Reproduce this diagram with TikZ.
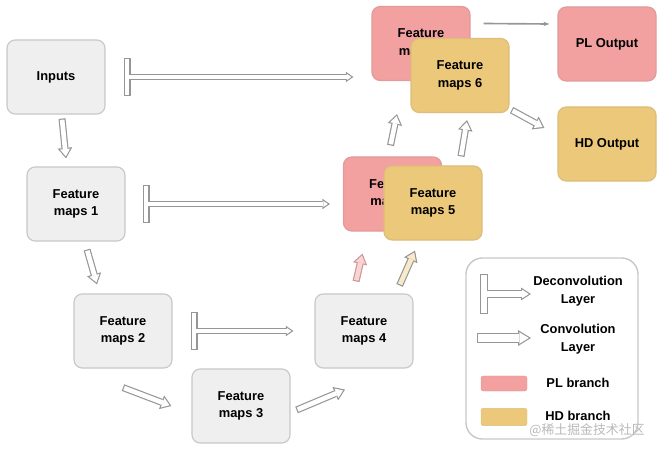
\documentclass[tikz,border=0pt]{standalone}
\usepackage{fontspec}
\setmainfont{Liberation Sans}
\newfontfamily\cjkfont{Noto Sans CJK SC}
\usetikzlibrary{arrows.meta, positioning}
\definecolor{rosa}{RGB}{242, 160, 160}
\definecolor{amarelo}{RGB}{236, 200, 122}
\definecolor{cinzaclaro}{RGB}{239, 239, 239}
\definecolor{borda}{RGB}{200, 200, 200}
\definecolor{linha}{RGB}{150, 150, 150}
\tikzset{
  caixa/.style={
    draw=borda, fill=cinzaclaro, line width=1pt, rounded corners=7pt,
    minimum width=2.94cm, minimum height=2.22cm,
    font=\fontsize{11}{15}\selectfont\bfseries, align=center
  },
  caixaPL/.style={caixa, fill=rosa, draw=rosa!85!gray},
  caixaHD/.style={caixa, fill=amarelo, draw=amarelo!85!gray},
  amostraPL/.style={fill=rosa, draw=rosa!85!gray, rounded corners=2pt, minimum width=1.38cm, minimum height=0.45cm},
  amostraHD/.style={fill=amarelo, draw=amarelo!85!gray, rounded corners=2pt, minimum width=1.38cm, minimum height=0.52cm},
  rotulo/.style={font=\fontsize{11}{15}\selectfont\bfseries, align=center},
  % seta oca: contorno cinza, miolo claro
  setaConv/.style={
    draw=linha, line width=6pt, -{Triangle[length=9pt, width=12.5pt, line width=0pt]},
    postaction={draw=#1, line width=4pt, shorten <=1pt, shorten >=1.75pt,
      -{Triangle[length=6.25pt, width=8.68pt, line width=0pt]}}
  },
  setaConv/.default=white,
  setaConvLeg/.style={
    draw=linha, line width=8.5pt, -{Triangle[length=11pt, width=13.5pt, line width=0pt]},
    postaction={draw=white, line width=6.5pt, shorten <=1pt, shorten >=1.91pt,
      -{Triangle[length=8.09pt, width=9.93pt, line width=0pt]}}
  },
  setaDeconv/.style={
    draw=linha, line width=5pt,
    {Rectangle[length=6pt, width=33pt, line width=0pt]}-{Triangle[length=6.5pt, width=9pt, line width=0pt]},
    postaction={draw=white, line width=3pt, shorten <=1pt, shorten >=1.76pt,
      {Rectangle[length=4pt, width=31pt, line width=0pt]}-{Triangle[length=3.74pt, width=5.18pt, line width=0pt]}}
  },
  setaDeconvLeg/.style={
    draw=linha, line width=6.8pt,
    {Rectangle[length=7pt, width=34pt, line width=0pt]}-{Triangle[length=8.5pt, width=11pt, line width=0pt]},
    postaction={draw=white, line width=4.8pt, shorten <=1pt, shorten >=1.84pt,
      {Rectangle[length=5pt, width=32pt, line width=0pt]}-{Triangle[length=5.66pt, width=7.32pt, line width=0pt]}}
  },
  setaSaida/.style={-{Stealth[length=5pt, open]}, draw=linha, line width=1.4pt},
}

\begin{document}
\begin{tikzpicture}[x=0.03cm, y=-0.03cm]
\useasboundingbox (0,0) rectangle (662,452);

% Entradas e mapas
\node[caixa] (entradas) at (56,77) {Inputs};
\node[caixa] (mapa1) at (76,204) {Feature\\maps 1};
\node[caixa] (mapa2) at (123,331) {Feature\\maps 2};
\node[caixa] (mapa3) at (241,406) {Feature\\maps 3};
\node[caixa] (mapa4) at (364,331) {Feature\\maps 4};

% Ramos PL / HD
\node[caixaPL] (mapa5pl) at (392.5,194) {Feature\\maps 5};
\node[caixaHD] (mapa5hd) at (433,203) {Feature\\maps 5};
\node[caixaPL] (mapa6pl) at (421,43.5) {Feature\\maps 6};
\node[caixaHD] (mapa6hd) at (460,75.5) {Feature\\maps 6};

% Saidas
\node[caixaPL] (saidaPL) at (607,44) {PL Output};
\node[caixaHD] (saidaHD) at (607,144) {HD Output};

% Convolucoes
\draw[setaConv] ([shift={(6,4)}]entradas.south) -- ([shift={(-10,-8)}]mapa1.north);
\draw[setaConv] ([shift={(11,8)}]mapa1.south) -- ([shift={(-26,-9)}]mapa2.north);
\draw[setaConv] ([shift={(0,19)}]mapa2.south) -- ([shift={(-20,0)}]mapa3.west);
\draw[setaConv] ([shift={(6,4)}]mapa3.east) -- ([shift={(-19,21)}]mapa4.south);
\draw[setaConv=rosa!45, draw=rosa!70!gray] ([shift={(-8,-12)}]mapa4.north) -- ([shift={(-30,22)}]mapa5pl.south);
\draw[setaConv=amarelo!40] ([shift={(-14,-8)}]mapa4.north east) -- ([shift={(-18,10)}]mapa5hd.south);
\draw[setaConv] ([shift={(-2,-11)}]mapa5pl.north) -- ([shift={(-24,33)}]mapa6pl.south);
\draw[setaConv] ([shift={(28,-9)}]mapa5hd.north) -- ([shift={(7,7)}]mapa6hd.south);
\draw[setaConv] ([shift={(2,-3)}]mapa6hd.south east) -- ([shift={(-13,-16)}]saidaHD.west);
\draw[setaSaida] ([shift={(13,-20)}]mapa6pl.east) -- ([shift={(-8,-20)}]saidaPL.west);

% Deconvolucoes
\coordinate (alvo6) at (entradas.east -| mapa6pl.west);
\coordinate (alvo5) at (mapa1.east -| mapa5pl.west);
\draw[setaDeconv] ([xshift=0.54cm]entradas.east) -- ([xshift=-0.54cm]alvo6);
\draw[setaDeconv] ([xshift=0.51cm]mapa1.east) -- ([xshift=-0.39cm]alvo5);
\draw[setaDeconv] ([xshift=0.54cm]mapa2.east) -- ([xshift=-0.63cm]mapa4.west);

% Legenda
\node[draw=borda, line width=1.2pt, rounded corners=14pt, minimum width=5.16cm, minimum height=5.43cm] (legenda) at (552,348.5) {};
\coordinate (legT1) at (480,294);
\coordinate (legT2) at (531,294);
\draw[setaDeconvLeg] (legT1) -- (legT2);
\node[rotulo] (legDeconv) at (578,291) {Deconvolution\\Layer};
\coordinate (legC1) at (477,338);
\coordinate (legC2) at (531,338);
\draw[setaConvLeg] (legC1) -- (legC2);
\node[rotulo] (legConv) at (578,339) {Convolution\\Layer};
\node[amostraPL] (legPL) at (504,383.5) {};
\node[rotulo] (legPLtxt) at (578,383) {PL branch};
\node[amostraHD] (legHD) at (504,417) {};
\node[rotulo] (legHDtxt) at (578,416) {HD branch};

% Marca d'agua
\node[font=\cjkfont\fontsize{11}{13}\selectfont, text=gray!55] (marca) at (587,430) {@稀土掘金技术社区};

\end{tikzpicture}
\end{document}
